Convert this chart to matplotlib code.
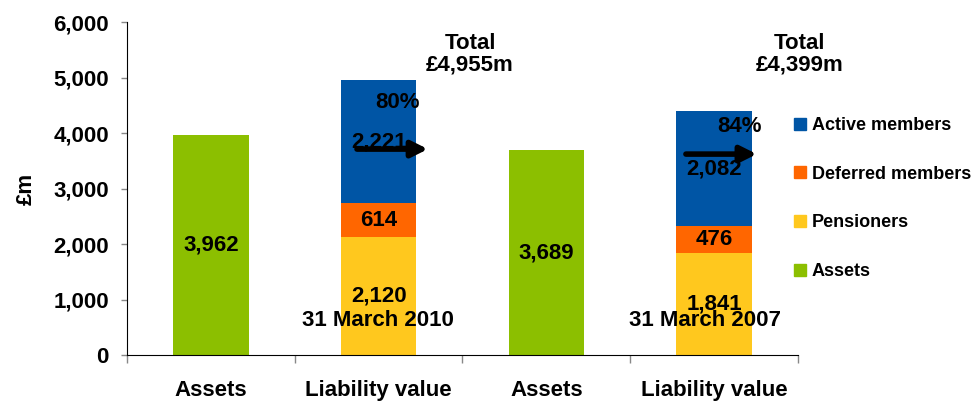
import matplotlib.pyplot as plt
from matplotlib.lines import Line2D

plt.rcParams['font.family'] = ['Liberation Sans', 'DejaVu Sans']
plt.rcParams['font.weight'] = 'bold'
plt.rcParams['axes.labelweight'] = 'bold'

categories = ['Assets', 'Liability value', 'Assets', 'Liability value']
assets = [3962, 0, 3689, 0]
pensioners = [0, 2120, 0, 1841]
deferred = [0, 614, 0, 476]
active = [0, 2221, 0, 2082]
totals = ['£4,955m', '£4,399m']
dates = ['31 March 2010', '31 March 2007']
pcts = ['80%', '84%']

c_assets = '#8CBF00'
c_pens = '#FFC81E'
c_def = '#FF6600'
c_act = '#0055A5'

fig = plt.figure(figsize=(9.78, 4.03), dpi=100)
ax = fig.add_axes([0.1299, 0.119, 0.686, 0.826])

x = range(len(categories))
w = 0.45
ax.bar(x, assets, w, color=c_assets)
ax.bar(x, pensioners, w, color=c_pens)
ax.bar(x, deferred, w, bottom=pensioners, color=c_def)
bot2 = [p + d for p, d in zip(pensioners, deferred)]
ax.bar(x, active, w, bottom=bot2, color=c_act)

fs = 16
for i in x:
    if assets[i]:
        ax.text(i, assets[i] / 2, f'{assets[i]:,}', ha='center', va='center', fontsize=fs)
    else:
        ax.text(i, pensioners[i] / 2, f'{pensioners[i]:,}', ha='center', va='center', fontsize=fs)
        ax.text(i, pensioners[i] + deferred[i] / 2, f'{deferred[i]:,}', ha='center', va='center', fontsize=fs)
        ax.text(i, bot2[i] + active[i] / 2, f'{active[i]:,}', ha='center', va='center', fontsize=fs)

# totals, percentages, dates, arrows
for k, (tx, px, py, dx, ay, ax0) in enumerate([(1.545, 1.115, 4559, 0.996, 3712, 0.871),
                                                 (3.512, 3.154, 4126, 2.946, 3622, 2.832)]):
    ax.text(tx, 5423, 'Total\n' + totals[k], ha='center', va='center', fontsize=fs,
            linespacing=1.0, clip_on=False)
    ax.text(px, py, pcts[k], ha='center', va='center', fontsize=fs)
    ax.text(dx, 631, dates[k], ha='center', va='center', fontsize=fs)
    ax.annotate('', xy=(ax0 + 0.423, ay), xytext=(ax0, ay),
                arrowprops=dict(arrowstyle='-|>', lw=4, color='black', mutation_scale=24,
                                shrinkA=0, shrinkB=0))

ax.set_xlim(-0.5, 3.5)
ax.set_ylim(0, 6000)
ax.set_yticks(range(0, 6001, 1000))
ax.set_yticklabels([f'{v:,}' for v in range(0, 6001, 1000)], fontsize=16)
ax.tick_params(axis='y', direction='out', length=4, color='#888888', width=1, pad=9)
ax.set_xticks(list(x))
ax.set_xticklabels(categories, fontsize=16)
ax.tick_params(axis='x', which='major', length=0, pad=18)
ax.set_xticks([-0.5, 0.5, 1.5, 2.5, 3.5], minor=True)
ax.tick_params(axis='x', which='minor', direction='out', length=6, color='#888888', width=1)
ax.spines['top'].set_visible(False)
ax.spines['right'].set_visible(False)
ax.set_ylabel('£m', fontsize=16, labelpad=12)

handles = [Line2D([], [], marker='s', ls='', markersize=9, color=c) for c in (c_act, c_def, c_pens, c_assets)]
labels = ['Active members', 'Deferred members', 'Pensioners', 'Assets']
ax.legend(handles, labels, loc='center left', bbox_to_anchor=(0.995, 0.47), frameon=False,
          fontsize=13, labelspacing=1.75, handlelength=0.6, handletextpad=0.35, borderpad=0,
          borderaxespad=0)

fig.savefig('out.png', dpi=100)
